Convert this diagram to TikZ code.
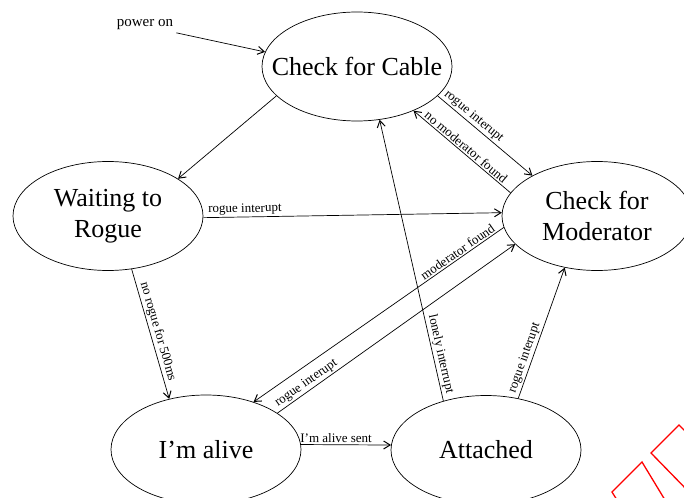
\documentclass[tikz,border=0pt]{standalone}
\usepackage{fontspec}
\setmainfont{Liberation Serif}
\usetikzlibrary{positioning, arrows.meta, shapes.geometric}

\begin{document}
\begin{tikzpicture}[x=1pt,y=-1pt,>={Straight Barb[length=6.5pt,width=8pt,line width=1pt]},
  stateell/.style={draw,ellipse,line width=0.7pt,minimum width=190pt,
    minimum height=109pt,inner xsep=-20pt,inner ysep=0pt,align=center,
    font=\fontsize{26}{31}\selectfont},
  tr/.style={->,line width=0.7pt},
  lbl/.style={sloped,above,inner sep=1.5pt,font=\fontsize{13}{15}\selectfont}]
  \useasboundingbox (0,0) rectangle (684,497);
  % states
  \node[stateell] (cable) at (357,66.5) {Check for Cable};
  \node[stateell] (waiting) at (108,216) {Waiting to\\Rogue};
  \node[stateell] (moderator) at (597,216) {Check for\\Moderator};
  \node[stateell] (alive) at (206,449.5) {I’m alive};
  \node[stateell] (attached) at (486,450) {Attached};
  \node[font=\fontsize{15}{18}\selectfont,inner sep=3pt] (pwr) at (145,24.5) {power on};
  % transitions
  \draw[tr](pwr.south east)--(cable.171);
  \draw[tr](cable.200)--(waiting.28);
  \draw[tr](cable.-20)--node[lbl,pos=0.33]{rogue interupt}(moderator.148);
  \draw[tr](moderator.165)--node[lbl,pos=0.5]{no moderator found}(cable.-38);
  \draw[tr](waiting.-1)--node[lbl,pos=0.14]{rogue interupt}(moderator.178);
  \draw[tr](waiting.-66)--node[lbl,midway]{no rogue for 500ms}(alive.126);
  \draw[tr](moderator.187)--node[lbl,pos=0.17]{moderator found}(alive.45);
  \draw[tr](alive.27)--node[lbl,pos=0.14]{rogue interupt}(moderator.199);
  \draw[tr](alive.3)--node[lbl,pos=0.39]{I’m alive sent}(attached.177);
  \draw[tr](attached.131)--node[lbl,pos=0.16]{lonely interrupt}(cable.-67);
  \draw[tr](attached.58)--node[lbl,pos=0.29]{rogue interupt}(moderator.-122);
  % red mark, bottom right
  \draw[red,line width=1.3pt](689,435)--(679,425)--(651,453)--(690,493);
  \draw[red,line width=1.3pt](617,500)--(612,492)--(642,462)--(665,500);
\end{tikzpicture}
\end{document}
